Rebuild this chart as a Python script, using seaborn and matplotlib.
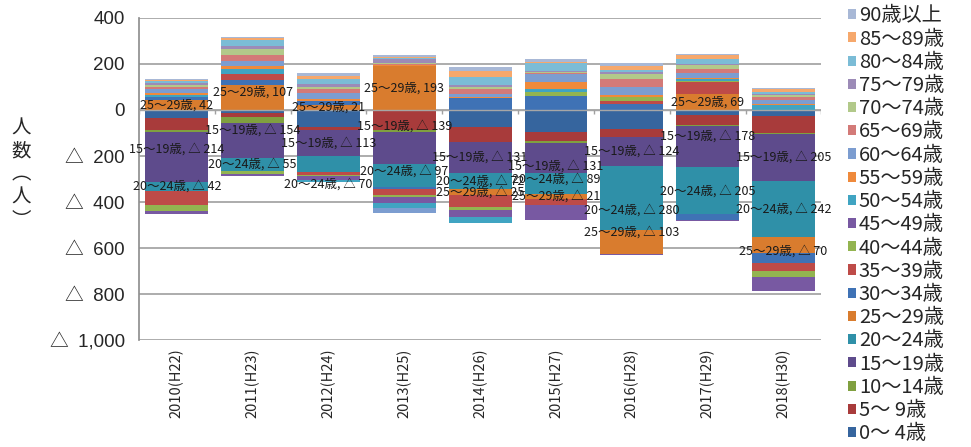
import numpy as np
import pandas as pd
import matplotlib
matplotlib.use("Agg")
import matplotlib.pyplot as plt
import seaborn as sns

# categories
years = ["2010(H22)", "2011(H23)", "2012(H24)", "2013(H25)", "2014(H26)",
         "2015(H27)", "2016(H28)", "2017(H29)", "2018(H30)"]
ages = ["0～ 4歳", "5～ 9歳", "10～14歳", "15～19歳", "20～24歳", "25～29歳",
        "30～34歳", "35～39歳", "40～44歳", "45～49歳", "50～54歳", "55～59歳",
        "60～64歳", "65～69歳", "70～74歳", "75～79歳", "80～84歳", "85～89歳",
        "90歳以上"]
labeled = ["15～19歳", "20～24歳", "25～29歳"]

# net migration per age group, one list per year
v2010 = [-36, -51, -10, -214, -42, 42, 15, -61, -26, -10, 10, 8, 15, 10, 8, 8, 8, 6, 4]
v2011 = [-15, -15, -25, -154, -55, 107, 25, 25, -15, -10, 20, 12, 25, 25, 25, 15, 25, 8, 3]
v2012 = [-72, -13, -3, -113, -70, 21, 20, -12, -5, -15, -10, 6, 28, 15, 8, 14, 22, 14, 12]
v2013 = [-5, -80, -12, -139, -97, 193, -10, -25, -10, -25, -25, 2, -20, 5, 5, 15, 5, 5, 8]
v2014 = [-76, -62, -3, -131, -72, -25, 50, -52, -15, -28, -29, 8, 12, 20, 10, 8, 35, 28, 15]
v2015 = [-97, -36, -12, -131, -89, -21, 60, -29, 18, -65, 14, 28, 35, 5, 4, 6, 36, 4, 12]
v2016 = [-83, -34, -2, -124, -280, -103, 25, 15, 15, -5, 3, 5, 35, 35, 22, 8, 10, 18, 12]
v2017 = [-20, -45, -5, -178, -205, 69, -25, 52, 5, -5, 10, 5, 20, 15, 20, 5, 20, 17, 3]
v2018 = [-26, -72, -5, -205, -242, -70, -44, -36, -25, -60, 20, 5, 20, 10, 8, 5, 12, 10, 5]

colors = ["#36659e", "#a83b3b", "#80a040", "#5e4b8c", "#2f90a8", "#d97c2e",
          "#3f72b5", "#be4b48", "#93b450", "#7859a2", "#40a4c2", "#ef8a3c",
          "#7c9dd0", "#d37a78", "#b2c98a", "#9c8bb7", "#7bbcd6", "#f6a86c",
          "#a8b8d6"]

# the data labels were dragged a bit in the original chart (data units)
nudge = {
    "15～19歳": [34, 44, 0, 96, 0, -35, 0, 46, 0],
    "20～24歳": [0, 0, -87, 20, 0, 20, -50, 0, 0],
    "25～29歳": [0, 25, 0, 0, 0, 0, 43, 0, -30],
}

df = pd.DataFrame([v2010, v2011, v2012, v2013, v2014, v2015, v2016, v2017, v2018],
                  index=years, columns=ages)

sns.set_theme(style="white")
plt.rcParams['font.family'] = ['Noto Sans CJK JP', 'DejaVu Sans']
pal = sns.color_palette(colors)

fig = plt.figure(figsize=(9.71, 4.47), dpi=100)
ax = fig.add_axes([0.143, 0.239, 0.703, 0.721])

x = np.arange(len(years))
pos_bot = np.zeros(len(years))
neg_bot = np.zeros(len(years))
centers = {}
for age, col in zip(ages, pal):
    vals = df[age].to_numpy(float)
    bottom = np.where(vals >= 0, pos_bot, neg_bot)
    ax.bar(x, vals, 0.83, bottom=bottom, color=col, label=age, linewidth=0, zorder=2)
    centers[age] = bottom + vals / 2
    pos_bot += np.clip(vals, 0, None)
    neg_bot += np.clip(vals, None, 0)

# data labels on the 15-29 groups
for age in labeled:
    for i, v in enumerate(df[age]):
        txt = f"{age}, {v}" if v >= 0 else f"{age}, △ {-v}"
        ax.text(i, centers[age][i] + nudge[age][i], txt, ha='center', va='center',
                fontsize=9, color='#1a1a1a', zorder=5)

# axes
ax.set_ylim(-1000, 400)
ax.set_xlim(-0.5, len(years) - 0.5)
yt = list(range(-1000, 401, 200))
ax.set_yticks(yt)
ax.set_yticklabels([f"{v:,}" if v >= 0 else f"△\u2002{-v:,}" for v in yt],
                   fontsize=13.5, family=['Liberation Sans', 'Noto Sans CJK JP'])
ax.set_xticks(x)
ax.set_xticklabels(years, rotation=90, fontsize=10.5)
ax.tick_params(axis='y', length=0, pad=10)
ax.tick_params(axis='x', length=0, pad=6)
ax.yaxis.grid(True, color='#a6a6a6', lw=1.3, zorder=0)
ax.set_axisbelow(True)
for s in ['top', 'right', 'bottom']:
    ax.spines[s].set_visible(False)
ax.spines['left'].set_color('#909090')
ax.axhline(0, color='#a6a6a6', lw=1.0, zorder=3)
ax.vlines(np.arange(len(years) + 1) - 0.5, -18, 0, color='#a0a0a0', lw=1.0, zorder=3)

fig.text(0.022, 0.61, "人\n数\n︵\n人\n︶", fontsize=14, ha='center', va='center',
         linespacing=1.12)

h, l = ax.get_legend_handles_labels()
fig.legend(h[::-1], l[::-1], loc='upper left', bbox_to_anchor=(0.873, 0.988),
           frameon=False, fontsize=14.5, handlelength=0.4, handleheight=0.4,
           handletextpad=0.15, labelspacing=0.11, borderaxespad=0, borderpad=0)

fig.savefig("out.png", dpi=100)
